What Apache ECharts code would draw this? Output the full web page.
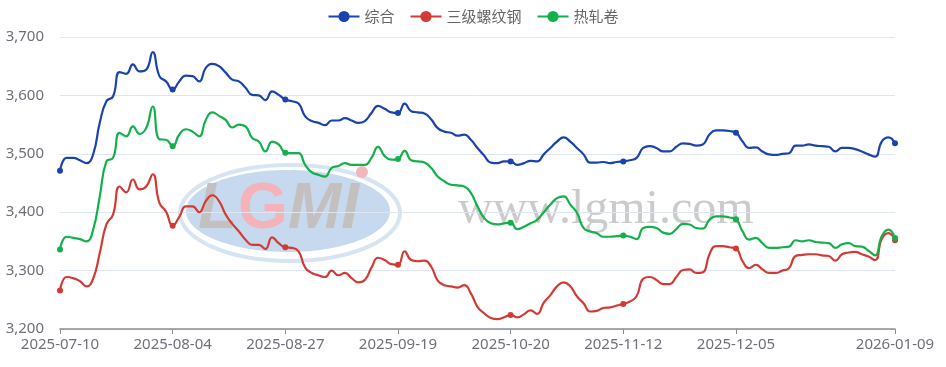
<!DOCTYPE html>
<html><head><meta charset="utf-8">
<script src="https://cdn.jsdelivr.net/npm/echarts@6/dist/echarts.min.js"></script>
<style>html,body{margin:0;padding:0;background:#fff}#c{width:946px;height:367px}</style>
</head><body><div id="c"></div>
<script>
const dates = [
'2025-07-10','2025-07-11','2025-07-14','2025-07-15','2025-07-16','2025-07-17','2025-07-18','2025-07-21','2025-07-22','2025-07-23','2025-07-24','2025-07-25','2025-07-28','2025-07-29','2025-07-30','2025-07-31',
'2025-08-01','2025-08-04','2025-08-05','2025-08-06','2025-08-07','2025-08-08','2025-08-11','2025-08-12','2025-08-13','2025-08-14','2025-08-15','2025-08-18','2025-08-19','2025-08-20','2025-08-21','2025-08-22','2025-08-25','2025-08-26','2025-08-27','2025-08-28','2025-08-29',
'2025-09-01','2025-09-02','2025-09-03','2025-09-04','2025-09-05','2025-09-08','2025-09-09','2025-09-10','2025-09-11','2025-09-12','2025-09-15','2025-09-16','2025-09-17','2025-09-18','2025-09-19','2025-09-22','2025-09-23','2025-09-24','2025-09-25','2025-09-26','2025-09-28','2025-09-29','2025-09-30',
'2025-10-09','2025-10-10','2025-10-11','2025-10-13','2025-10-14','2025-10-15','2025-10-16','2025-10-17','2025-10-20','2025-10-21','2025-10-22','2025-10-23','2025-10-24','2025-10-27','2025-10-28','2025-10-29','2025-10-30','2025-10-31',
'2025-11-03','2025-11-04','2025-11-05','2025-11-06','2025-11-07','2025-11-10','2025-11-11','2025-11-12','2025-11-13','2025-11-14','2025-11-17','2025-11-18','2025-11-19','2025-11-20','2025-11-21','2025-11-24','2025-11-25','2025-11-26','2025-11-27','2025-11-28',
'2025-12-01','2025-12-02','2025-12-03','2025-12-04','2025-12-05','2025-12-08','2025-12-09','2025-12-10','2025-12-11','2025-12-12','2025-12-15','2025-12-16','2025-12-17','2025-12-18','2025-12-19','2025-12-22','2025-12-23','2025-12-24','2025-12-25','2025-12-26','2025-12-29','2025-12-30','2025-12-31',
'2026-01-04','2026-01-05','2026-01-06','2026-01-07','2026-01-08','2026-01-09'
];
const seriesNames = ['综合','三级螺纹钢','热轧卷'];
const composite = [
3471,3493,3493,3489,3484,3499,3553,3590,3598,3640,3637,3653,3641,3644,3674,3633,3624,3610,3624,3634,3633,3624,3647,3654,3650,3639,3627,3624,3613,3601,3600,3592,3607,3601,3593,
3590,3586,3564,3556,3553,3549,3557,3557,3561,3557,3553,3556,3570,3582,3577,3571,3570,3586,3573,3571,3569,3559,3544,3538,3536,3531,3533,3524,3510,3497,3485,3484,3487,3487,
3481,3484,3488,3487,3499,3510,3521,3528,3521,3510,3499,3485,3485,3486,3484,3486,3487,3489,3493,3510,3513,3510,3504,3504,3512,3518,3517,3514,3516,3533,3540,3540,3539,3536,
3521,3510,3511,3504,3499,3498,3500,3501,3514,3514,3516,3514,3513,3512,3504,3510,3510,3508,3504,3499,3495,3521,3528,3518
];
const rebar = [
3266,3289,3287,3282,3273,3286,3330,3379,3396,3444,3434,3456,3439,3444,3465,3416,3401,3377,3392,3410,3410,3400,3419,3429,3419,3396,3380,3367,3353,3344,3344,3337,3357,3347,3340,
3339,3333,3305,3296,3292,3289,3300,3292,3296,3287,3280,3284,3305,3322,3318,3311,3310,3333,3318,3316,3317,3307,3283,3275,3273,3271,3275,3261,3238,3227,3219,3217,3220,3224,
3220,3225,3232,3226,3245,3258,3273,3280,3273,3256,3244,3230,3231,3236,3237,3240,3243,3247,3256,3286,3289,3284,3277,3277,3289,3301,3302,3296,3297,3328,3342,3342,3340,3338,
3316,3304,3310,3302,3296,3296,3300,3304,3325,3327,3328,3328,3326,3325,3317,3328,3331,3332,3328,3324,3318,3354,3364,3352
];
const hotRolled = [
3336,3358,3356,3354,3350,3370,3427,3487,3493,3536,3530,3547,3534,3544,3581,3525,3524,3513,3533,3542,3538,3530,3558,3571,3565,3558,3545,3550,3547,3527,3521,3504,3521,3516,3502,
3501,3501,3481,3468,3464,3461,3476,3479,3484,3481,3481,3481,3493,3512,3496,3490,3491,3505,3489,3487,3485,3476,3461,3453,3447,3446,3444,3433,3410,3390,3381,3379,3381,3382,
3371,3375,3381,3387,3400,3413,3424,3427,3413,3399,3373,3367,3364,3358,3358,3359,3360,3358,3354,3373,3375,3373,3365,3363,3371,3380,3379,3373,3372,3387,3393,3393,3391,3388,
3367,3353,3356,3347,3339,3339,3340,3341,3352,3350,3352,3349,3348,3347,3339,3345,3347,3342,3341,3334,3326,3359,3370,3356
];
const colors = ['#1b43ad','#d23b34','#13b04b'];
const yMin = 3200, yMax = 3700, yStep = 100;
const labelStep = 17;
const lastIdx = dates.length - 1;
const showIdx = i => (i % labelStep === 0 && i <= lastIdx - labelStep / 2) || i === lastIdx;

const chart = echarts.init(document.getElementById('c'), null, {renderer:'canvas'});
const mk = (name, data, color) => ({
  name, type:'line', data, smooth:true, showSymbol:true, showAllSymbol:true,
  symbol:'circle',
  symbolSize:(v, p) => showIdx(p.dataIndex) ? 6 : 0,
  lineStyle:{width:2.2, color}, itemStyle:{color}, z:5
});
chart.setOption({
  animation:false,
  color: colors,
  legend:{
    top:4, left:'center', itemWidth:31, itemHeight:14, itemGap:15,
    textStyle:{fontFamily:'"Noto Sans CJK SC", sans-serif', fontSize:15, color:'#666'},
    data: seriesNames
  },
  grid:{left:60, right:51, top:37, bottom:38},
  graphic:[
    {type:'ellipse', left:178, top:163, shape:{cx:0,cy:0,rx:110,ry:48}, style:{fill:'rgba(0,0,0,0)', stroke:'#d6e4f3', lineWidth:4}, silent:true, z:0},
    {type:'ellipse', left:186, top:170, shape:{cx:0,cy:0,rx:102,ry:41}, style:{fill:'#c6d9ee'}, silent:true, z:0},
    {type:'circle', left:356, top:166, shape:{r:6}, style:{fill:'#f4b6bd'}, silent:true, z:0},
    {type:'text', left:198, top:178, style:{text:'L', font:'italic bold 64px "Liberation Sans", sans-serif', fill:'#c4c0bf'}, silent:true, z:0},
    {type:'text', left:238, top:178, style:{text:'G', font:'bold 64px "Liberation Sans", sans-serif', fill:'#f4b3ba'}, silent:true, z:0},
    {type:'text', left:288, top:178, style:{text:'MI', font:'italic bold 64px "Liberation Sans", sans-serif', fill:'#c4c0bf'}, silent:true, z:0},
    {type:'text', left:458, top:186, style:{text:'www.lgmi.com', font:'48px "Liberation Serif", serif', fill:'#cbcbcb'}, silent:true, z:0}
  ],
  xAxis:{
    type:'category', data:dates, boundaryGap:false,
    axisLine:{lineStyle:{color:'#8a8d96', width:1.5}},
    axisTick:{interval:(i)=>showIdx(i), length:5, lineStyle:{color:'#8a8d96'}},
    axisLabel:{interval:(i)=>showIdx(i), color:'#6e7079', fontSize:15, fontFamily:'"Noto Sans", sans-serif', margin:8, showMaxLabel:true}
  },
  yAxis:{
    type:'value', min:yMin, max:yMax, interval:yStep,
    axisLabel:{color:'#6e7079', fontSize:15, fontFamily:'"Noto Sans", sans-serif', margin:16,
      formatter:v=>v.toLocaleString('en-US')},
    splitLine:{lineStyle:{color:'#e0e6f1'}}
  },
  series:[
    mk(seriesNames[0], composite, colors[0]),
    mk(seriesNames[1], rebar, colors[1]),
    mk(seriesNames[2], hotRolled, colors[2])
  ]
});
</script></body></html>
